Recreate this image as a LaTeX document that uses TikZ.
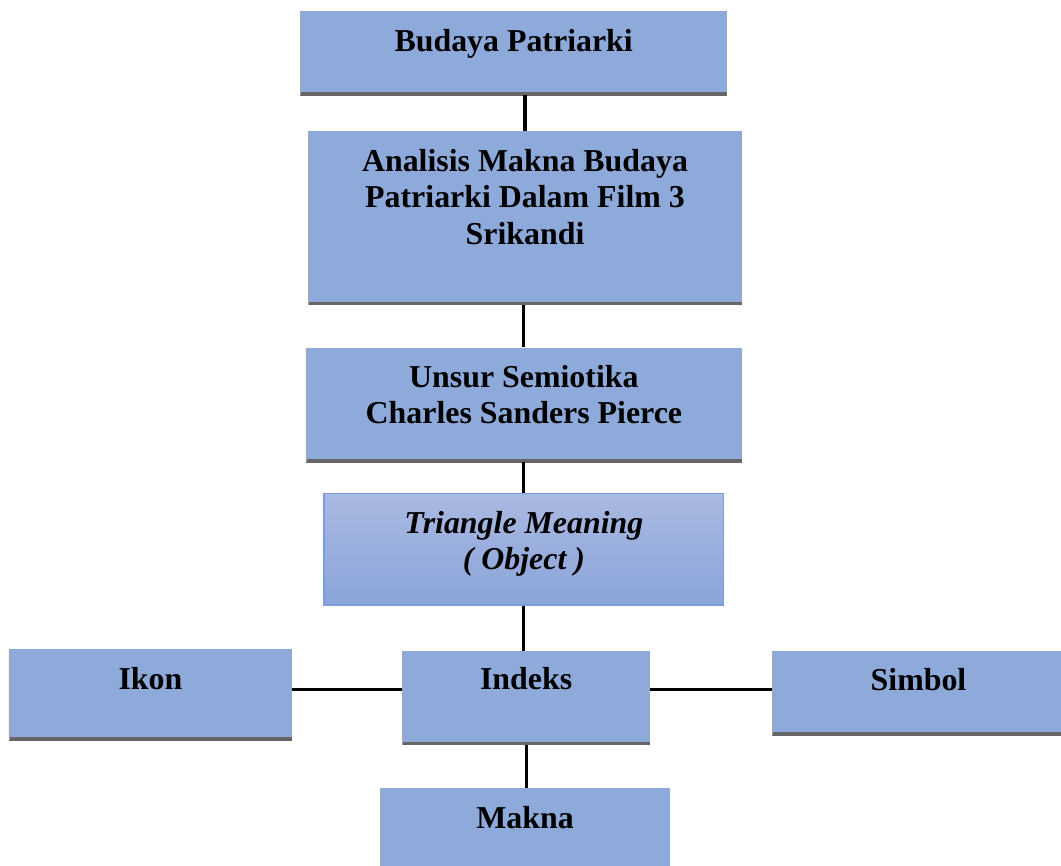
\documentclass[tikz,border=0pt]{standalone}
\usepackage{fontspec}
\setmainfont{Liberation Serif}
\definecolor{boxblue}{HTML}{8EAADB}
\definecolor{edgegray}{HTML}{666666}
\definecolor{gradtop}{HTML}{AAB9E2}
\definecolor{gradbot}{HTML}{8AA4D9}
\definecolor{gradedge}{HTML}{7C9DDB}
\tikzset{
  blockbox/.style={rectangle, fill=boxblue, inner xsep=4pt, inner ysep=0pt, align=center, text height=30pt,
    font=\bfseries\fontsize{24}{27.4}\selectfont,
    path picture={
      \draw[edgegray, line width=4.5pt] (path picture bounding box.south west) -- (path picture bounding box.south east);
      \draw[gray!70, line width=1.5pt] (path picture bounding box.south west) -- (path picture bounding box.north west);}},
  meaningbox/.style={rectangle, draw=gradedge, line width=0.9pt, top color=gradtop, bottom color=gradbot,
    inner xsep=4pt, inner ysep=0pt, align=center, text height=30pt,
    font=\bfseries\itshape\fontsize{24}{27.4}\selectfont},
  linkline/.style={line width=2.4pt, black}
}

\begin{document}
\begin{tikzpicture}
  \useasboundingbox (0,0) rectangle (28.07,22.89);
  % chain of boxes
  \node[blockbox, minimum width=11.30cm, text depth=33pt] (patriarki) at (13.59,21.48) {Budaya Patriarki};
  \node[blockbox, minimum width=11.48cm, text height=84.8pt, text depth=45.7pt] (analisis) at (13.89,17.12) {Analisis Makna Budaya\\Patriarki Dalam Film 3\\Srikandi};
  \node[blockbox, minimum width=11.54cm, text height=57.4pt, text depth=28.85pt] (unsur) at (13.86,12.18) {Unsur Semiotika\\Charles Sanders Pierce};
  \node[meaningbox, minimum width=10.58cm, text height=57.4pt, text depth=26.6pt] (triangle) at (13.86,8.36) {Triangle Meaning\\( Object )};
  % three signs
  \node[blockbox, minimum width=7.49cm, text depth=38.25pt] (ikon) at (3.98,4.51) {Ikon};
  \node[blockbox, minimum width=6.56cm, text height=28.5pt, text depth=42pt] (indeks) at (13.92,4.42) {Indeks};
  \node[blockbox, minimum width=7.75cm, text depth=33.75pt] (simbol) at (24.30,4.56) {Simbol};
  \node[blockbox, minimum width=7.67cm, text depth=39pt] (makna) at (13.89,0.82) {Makna};

  \draw[linkline] (analisis.north) -- (analisis.north |- patriarki.south);
  \draw[linkline] (unsur.north) -- (unsur.north |- analisis.south);
  \draw[linkline] (triangle.north) -- (triangle.north |- unsur.south);
  \draw[linkline] (triangle.south) -- (triangle.south |- indeks.north);
  \draw[linkline] (indeks.south) -- (indeks.south |- makna.north);
  \draw[linkline] (ikon.base east) -- (ikon.base east -| indeks.west);
  \draw[linkline] (indeks.base east) -- (indeks.base east -| simbol.west);
\end{tikzpicture}
\end{document}
